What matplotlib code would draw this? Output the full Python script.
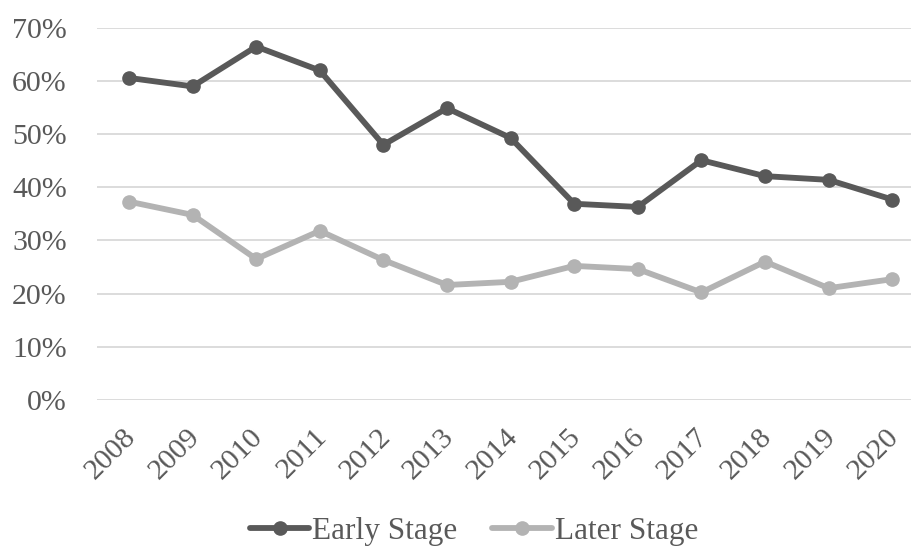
import matplotlib
matplotlib.use("Agg")
import matplotlib.pyplot as plt
import matplotlib.transforms as mtransforms
from matplotlib.ticker import PercentFormatter, MultipleLocator

years = ["2008", "2009", "2010", "2011", "2012", "2013", "2014",
         "2015", "2016", "2017", "2018", "2019", "2020"]
early_stage = [0.606, 0.590, 0.665, 0.620, 0.480, 0.549, 0.493,
               0.369, 0.363, 0.451, 0.421, 0.414, 0.377]
later_stage = [0.373, 0.348, 0.265, 0.318, 0.263, 0.216, 0.222,
               0.252, 0.246, 0.202, 0.260, 0.210, 0.227]

plt.rcParams['font.family'] = ['Liberation Serif', 'DejaVu Serif']
text_color = '#595959'

W, H = 912, 547
fig = plt.figure(figsize=(W / 100, H / 100), dpi=100)
left, right = 97.2 / W, 924 / W
top, bottom = 1 - 28 / H, 1 - 399.7 / H
ax = fig.add_axes([left, bottom, right - left, top - bottom])

x = list(range(len(years)))
ax.plot(x, early_stage, color='#595959', lw=4.2, marker='o', ms=9.5,
        label='Early Stage', solid_capstyle='round', zorder=3)
ax.plot(x, later_stage, color='#B3B3B3', lw=4.2, marker='o', ms=9.5,
        label='Later Stage', solid_capstyle='round', zorder=3)

ax.set_xlim(-0.5, len(years) - 0.5)
ax.set_ylim(0, 0.7)
ax.yaxis.set_major_locator(MultipleLocator(0.1))
ax.yaxis.set_major_formatter(PercentFormatter(1.0, decimals=0))
ax.grid(axis='y', color='#D9D9D9', lw=1.3)
ax.set_axisbelow(True)
for s in ax.spines.values():
    s.set_visible(False)
ax.tick_params(axis='both', length=0, labelsize=21.5, colors=text_color)
ax.tick_params(axis='y', pad=22)
ax.set_xticks(x)
ax.set_xticklabels(years, rotation=45, ha='right', va='center',
                   rotation_mode='anchor')
ax.tick_params(axis='x', pad=24)
offset = mtransforms.ScaledTranslation(3 / 100, 0, fig.dpi_scale_trans)
for lab in ax.get_xticklabels():
    lab.set_transform(lab.get_transform() + offset)

fig.legend(loc='center', bbox_to_anchor=(474 / W, 16 / H), ncol=2,
           frameon=False, fontsize=22.5, labelcolor=text_color,
           handlelength=1.9, handletextpad=0.1, columnspacing=1.1,
           borderpad=0, borderaxespad=0)

fig.savefig('out.png', dpi=100)
